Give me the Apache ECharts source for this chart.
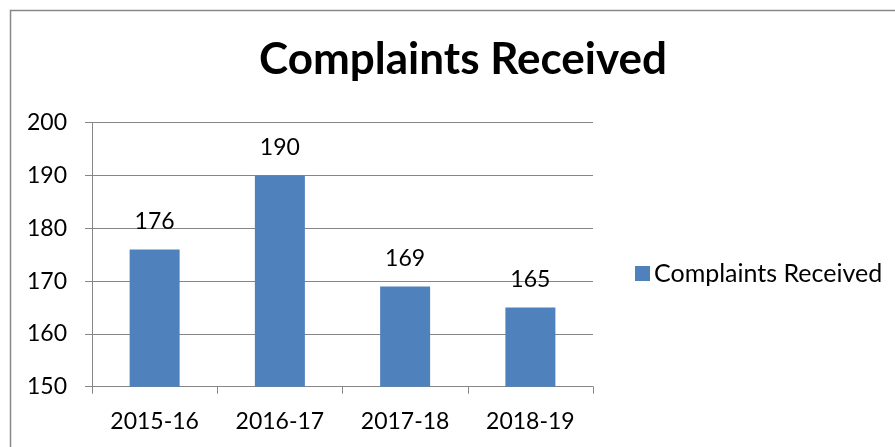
<!DOCTYPE html>
<html>
<head>
<meta charset="utf-8">
<script src="https://cdn.jsdelivr.net/npm/echarts@6/dist/echarts.min.js"></script>
<style>
html,body{margin:0;padding:0;background:#fff;}
#chart{width:895px;height:447px;}
</style>
</head>
<body>
<div id="chart"></div>
<script>
const categories = ['2015-16', '2016-17', '2017-18', '2018-19'];
const complaints = [176, 190, 169, 165];
const seriesName = 'Complaints Received';
const titleText = 'Complaints Received';

const chart = echarts.init(document.getElementById('chart'));
const font = 'Lato, "Open Sans", sans-serif';
const axisGray = '#868686';
chart.setOption({
  animation: false,
  backgroundColor: '#fff',
  textStyle: { fontFamily: font },
  graphic: [{
    type: 'rect',
    shape: { x: 10.5, y: 10.5, width: 1000, height: 1000 },
    style: { fill: 'none', stroke: '#888888', lineWidth: 1.5 },
    silent: true
  }],
  title: {
    text: titleText,
    left: 458, top: 33, textAlign: 'center',
    textStyle: { fontFamily: font, fontWeight: 'bold', fontSize: 44, color: '#000' }
  },
  legend: {
    data: [seriesName],
    left: 630, top: 256,
    itemWidth: 15, itemHeight: 15, itemGap: 6,
    icon: 'rect',
    textStyle: { fontFamily: font, fontSize: 25, color: '#000', padding: [0, 0, 0, -1] }
  },
  grid: { left: 92, right: 302, top: 122.7, bottom: 60.3, containLabel: false },
  xAxis: {
    type: 'category',
    data: categories,
    axisLine: { lineStyle: { color: axisGray, width: 1 } },
    axisTick: { show: true, length: 7, alignWithLabel: false, lineStyle: { color: axisGray } },
    axisLabel: { color: '#000', fontSize: 23, margin: 23, fontFamily: font },
    splitLine: { show: false }
  },
  yAxis: {
    type: 'value',
    min: 150, max: 200, interval: 10,
    axisLine: { show: true, lineStyle: { color: axisGray, width: 1 } },
    axisTick: { show: true, length: 7, lineStyle: { color: axisGray } },
    axisLabel: { color: '#000', fontSize: 23, margin: 25, fontFamily: font },
    splitLine: { show: true, lineStyle: { color: axisGray, width: 1 } }
  },
  series: [{
    name: seriesName,
    type: 'bar',
    data: complaints,
    barWidth: 50,
    itemStyle: { color: '#4F81BD' },
    label: { show: true, position: 'top', distance: 16, color: '#000', fontSize: 23, fontFamily: font }
  }]
});
</script>
</body>
</html>
